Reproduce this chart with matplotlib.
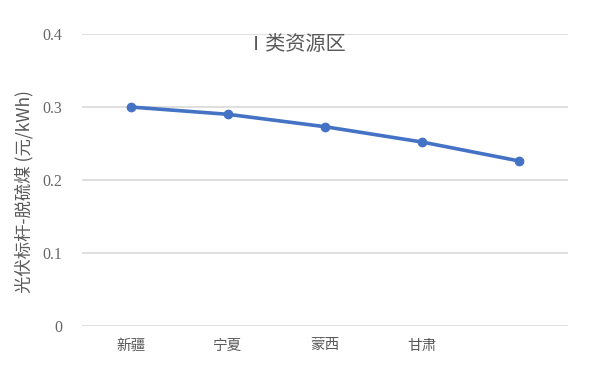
import matplotlib.pyplot as plt

plt.rcParams['font.family'] = ['Noto Sans CJK SC', 'DejaVu Sans']

regions = ["新疆", "宁夏", "蒙西", "甘肃", ""]
price_gap = [0.300, 0.290, 0.273, 0.252, 0.226]
yticks = [0, 0.1, 0.2, 0.3, 0.4]
ytick_labels = ["0", "0.1", "0.2", "0.3", "0.4"]

fig = plt.figure(figsize=(6, 3.67), dpi=100)
ax = fig.add_axes([82 / 600, 1 - 326 / 367, 486 / 600, 292 / 367])

x = list(range(len(regions)))
ax.plot(x, price_gap, color="#4472C4", linewidth=2.6, marker="o",
        markersize=6, zorder=3)

ax.set_xlim(-0.5, len(regions) - 0.5)
ax.set_ylim(0, 0.4)
ax.set_yticks(yticks)
ax.set_yticklabels(ytick_labels, family=["Liberation Serif"], fontsize=11.5,
                   color="#666666")
ax.set_xticks(x)
ax.set_xticklabels(regions, fontsize=10.5, color="#595959")
ax.tick_params(length=0, pad=14)
ax.tick_params(axis="x", pad=9)
ax.grid(axis="y", color="#D9D9D9", linewidth=1.2)
ax.set_axisbelow(True)
for s in ax.spines.values():
    s.set_visible(False)

ax.set_ylabel("光伏标杆-脱硫煤 (元/kWh)", fontsize=12.5, color="#595959")
ax.yaxis.set_label_coords(-0.099, 0.462)
ax.text(0.44, 0.965, "Ⅰ类资源区", transform=ax.transAxes, ha="center",
        va="center", fontsize=14.5, color="#595959")

fig.savefig("out.png", dpi=100, facecolor="white")
